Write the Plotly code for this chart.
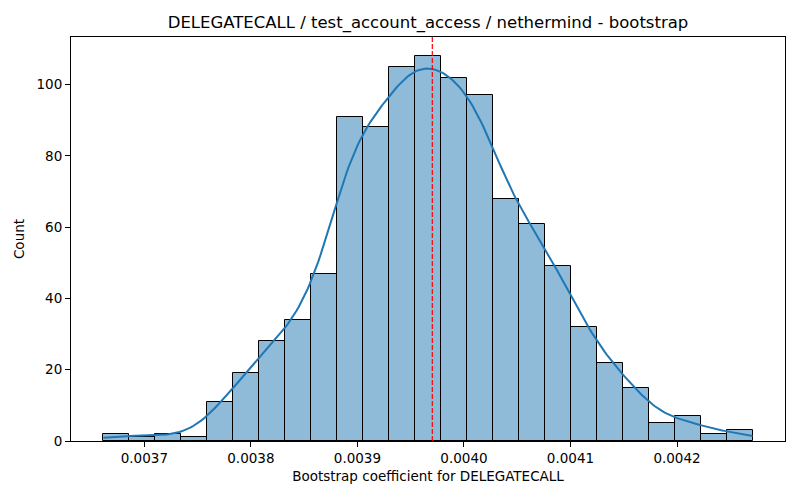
import numpy as np
import plotly.graph_objects as go

# ---- data ----
counts = [2, 1, 2, 1, 11, 19, 28, 34, 47, 91, 88, 105, 108, 102, 97, 68, 61, 49,
          32, 22, 15, 5, 7, 2, 3]
data_min = 0.0036616
data_max = 0.0042709
mean_value = 0.0039703
x_ticks = [0.0037, 0.0038, 0.0039, 0.0040, 0.0041, 0.0042]
y_ticks = [0, 20, 40, 60, 80, 100]
title = "DELEGATECALL / test_account_access / nethermind - bootstrap"
x_label = "Bootstrap coefficient for DELEGATECALL"
y_label = "Count"

# ---- derived ----
counts_arr = np.array(counts, dtype=float)
n_bins = len(counts)
edges = np.linspace(data_min, data_max, n_bins + 1)
bw = edges[1] - edges[0]
centers = (edges[:-1] + edges[1:]) / 2

# weighted Gaussian KDE (Scott's rule), scaled to counts
n = counts_arr.sum()
mu = np.sum(centers * counts_arr) / n
var = np.sum(counts_arr * (centers - mu) ** 2) / (n - 1) - bw ** 2 / 12
sd = np.sqrt(var)
h = sd * n ** (-1 / 5)
kernel_sd = np.sqrt(h ** 2 - bw ** 2 / 12)
xs = np.linspace(data_min, data_max, 300)
dens = np.sum(counts_arr[None, :] * np.exp(-0.5 * ((xs[:, None] - centers[None, :]) / kernel_sd) ** 2), axis=1)
dens = dens / (n * kernel_sd * np.sqrt(2 * np.pi))
kde_y = dens * n * bw

fig = go.Figure()
fig.add_trace(go.Bar(
    x=centers, y=counts, width=[bw] * n_bins,
    marker=dict(color="rgba(31,119,180,0.5)", line=dict(color="black", width=1)),
    showlegend=False, hoverinfo="x+y",
))
fig.add_trace(go.Scatter(
    x=xs, y=kde_y, mode="lines",
    line=dict(color="#1f77b4", width=2), showlegend=False,
))
fig.add_shape(type="line", x0=mean_value, x1=mean_value, y0=0, y1=1,
              xref="x", yref="paper", line=dict(color="red", width=1.2, dash="5px,2px"))

span = data_max - data_min
ymax = max(counts) * 1.05

fig.update_layout(
    width=800, height=500,
    margin=dict(l=71, r=15, t=37, b=59, autoexpand=False),
    paper_bgcolor="white", plot_bgcolor="white",
    font=dict(family="DejaVu Sans", size=13, color="black"),
    title=dict(text=title, x=0.5, xref="paper", xanchor="center",
               y=1 - 22 / 500, yref="container", yanchor="middle",
               font=dict(size=16.5, color="black")),
    bargap=0,
)
fig.update_xaxes(
    range=[data_min - 0.05 * span, data_max + 0.05 * span],
    tickvals=x_ticks, ticktext=[f"{v:.4f}" for v in x_ticks],
    ticks="outside", ticklen=5, tickcolor="black", tickfont=dict(size=13.5),
    showline=True, linecolor="black", linewidth=1, mirror=True,
    showgrid=False, zeroline=False, automargin=False,
    title=dict(text=x_label, font=dict(size=13.5), standoff=6),
)
fig.update_yaxes(
    range=[0, ymax],
    tickvals=y_ticks,
    ticks="outside", ticklen=5, tickcolor="black", tickfont=dict(size=13.5),
    showline=True, linecolor="black", linewidth=1, mirror=True,
    showgrid=False, zeroline=False, automargin=False,
    title=dict(text=y_label, font=dict(size=13.5), standoff=8),
)

fig.write_html("out.html", config={"displayModeBar": False},
               post_script="document.body.style.margin='0px';document.body.style.padding='0px';")
